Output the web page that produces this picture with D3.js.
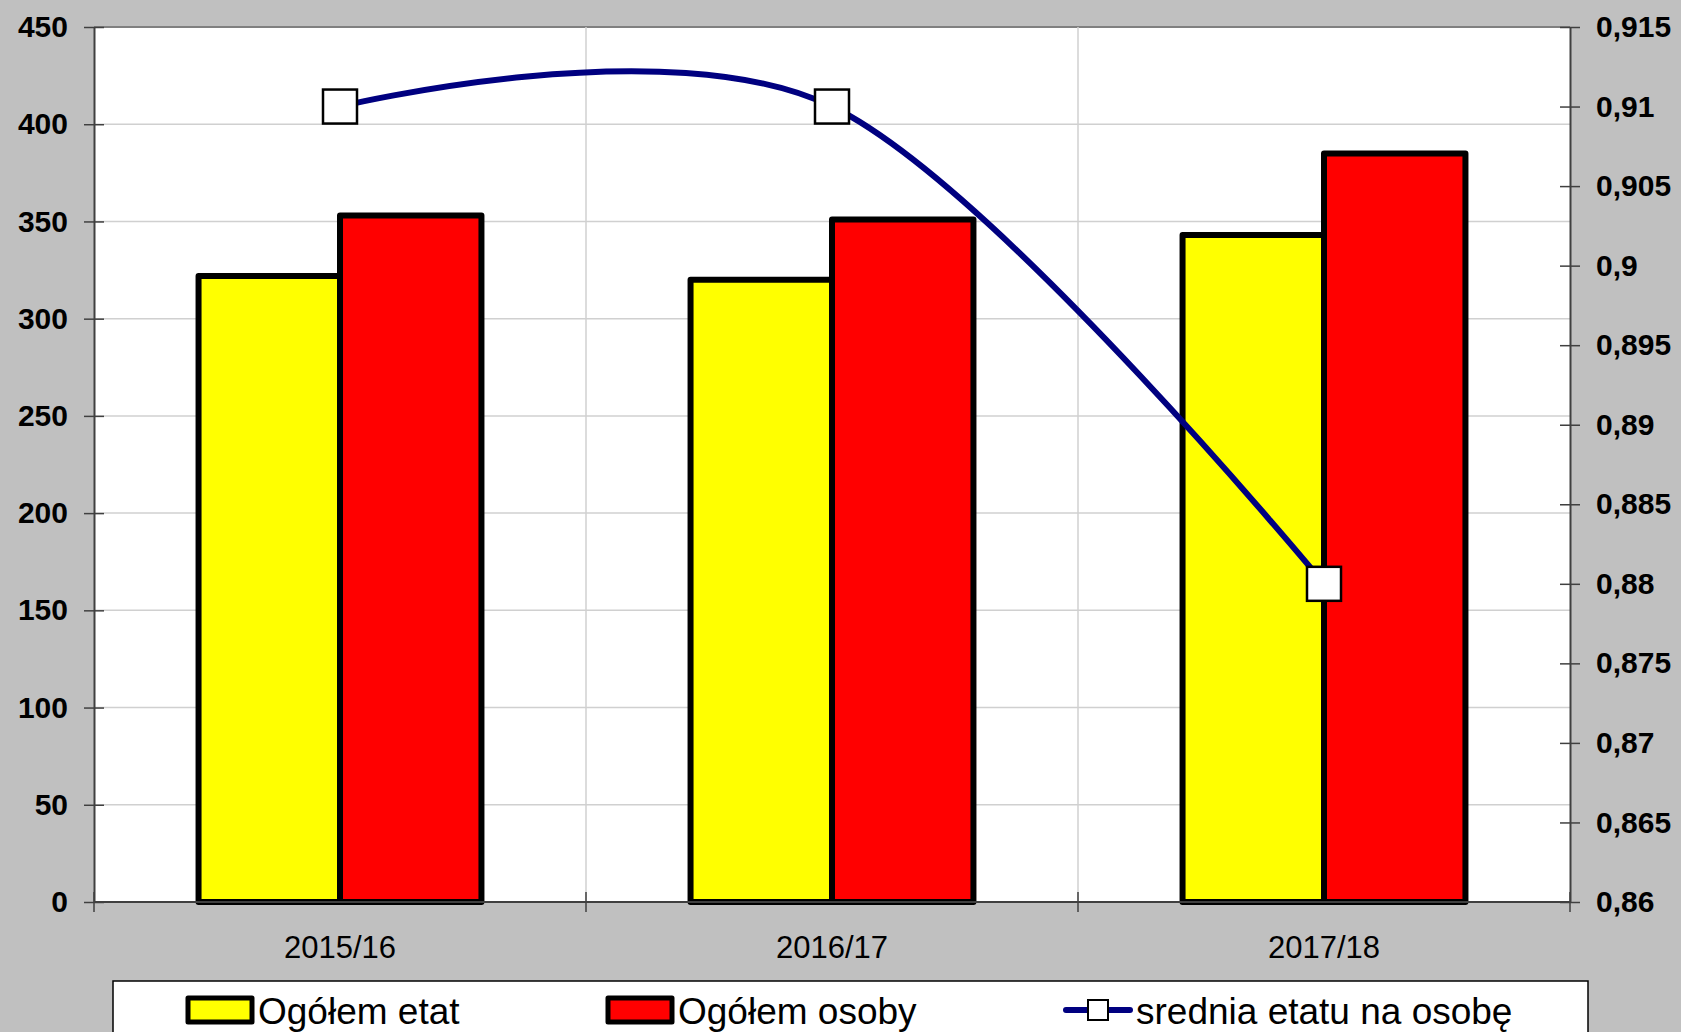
<!DOCTYPE html>
<html>
<head>
<meta charset="utf-8">
<script src="https://cdn.jsdelivr.net/npm/d3@7"></script>
<style>
  body { margin: 0; background: #c0c0c0; }
  svg { display: block; font-family: "Liberation Sans", Arial, sans-serif; }
</style>
</head>
<body>
<div id="chart"></div>
<script>
const categories = ["2015/16", "2016/17", "2017/18"];
const etat = [322, 320, 343];
const osoby = [353, 351, 385];
const srednia = [0.91, 0.91, 0.88];
const leftTicks = [0, 50, 100, 150, 200, 250, 300, 350, 400, 450];
const rightTicks = [0.86, 0.865, 0.87, 0.875, 0.88, 0.885, 0.89, 0.895, 0.9, 0.905, 0.91, 0.915];
const legendLabels = ["Ogółem etat", "Ogółem osoby", "srednia etatu na osobę"];

const width = 1681;
const height = 1032;
const plot = { left: 94, right: 1570, top: 27, bottom: 902 };

const svg = d3.select("#chart")
    .append("svg")
    .attr("width", width)
    .attr("height", height);

svg.append("rect")
    .attr("width", width)
    .attr("height", height)
    .attr("fill", "#c0c0c0");

const x = d3.scaleBand()
    .domain(categories)
    .range([plot.left, plot.right]);

const yLeft = d3.scaleLinear()
    .domain([0, 450])
    .range([plot.bottom, plot.top]);

const yRight = d3.scaleLinear()
    .domain([0.86, 0.915])
    .range([plot.bottom, plot.top]);

// plot area
svg.append("rect")
    .attr("x", plot.left)
    .attr("y", plot.top)
    .attr("width", plot.right - plot.left)
    .attr("height", plot.bottom - plot.top)
    .attr("fill", "#fff");

// horizontal gridlines
svg.append("g")
    .selectAll("line")
    .data(leftTicks.slice(1))
    .join("line")
    .attr("x1", plot.left)
    .attr("x2", plot.right)
    .attr("y1", d => yLeft(d))
    .attr("y2", d => yLeft(d))
    .attr("stroke", d => d === 450 ? "#808080" : "#d0d0d0")
    .attr("stroke-width", d => d === 450 ? 2 : 1.5);

// vertical gridlines at category boundaries
const bounds = categories.slice(1).map(c => x(c));
svg.append("g")
    .selectAll("line")
    .data(bounds)
    .join("line")
    .attr("x1", d => d)
    .attr("x2", d => d)
    .attr("y1", plot.top)
    .attr("y2", plot.bottom)
    .attr("stroke", "#d0d0d0")
    .attr("stroke-width", 1.5);

// bars
const barW = x.bandwidth() * 0.2875;
const cx = c => x(c) + x.bandwidth() / 2;

function drawBars(values, fill, offset) {
    svg.append("g")
        .selectAll("rect")
        .data(values)
        .join("rect")
        .attr("x", (d, i) => cx(categories[i]) + offset * barW)
        .attr("y", d => yLeft(d))
        .attr("width", barW)
        .attr("height", d => plot.bottom - yLeft(d))
        .attr("fill", fill)
        .attr("stroke", "#000")
        .attr("stroke-width", 6)
        .attr("stroke-linejoin", "round");
}
drawBars(etat, "#ffff00", -1);
drawBars(osoby, "#ff0000", 0);

// axes
const leftAxis = d3.axisLeft(yLeft)
    .tickValues(leftTicks)
    .tickSizeInner(10)
    .tickSizeOuter(0)
    .tickPadding(16);
const gL = svg.append("g")
    .attr("transform", `translate(${plot.left},0)`)
    .call(leftAxis);

const fmtRight = d => d3.format(".3~f")(d).replace(".", ",");
const rightAxis = d3.axisRight(yRight)
    .tickValues(rightTicks)
    .tickFormat(fmtRight)
    .tickSizeInner(10)
    .tickSizeOuter(0)
    .tickPadding(16);
const gR = svg.append("g")
    .attr("transform", `translate(${plot.right},0)`)
    .call(rightAxis);

[gL, gR].forEach(g => {
    g.select(".domain").attr("stroke", "#404040").attr("stroke-width", 2);
    g.selectAll(".tick line").attr("stroke", "#404040").attr("stroke-width", 1.5);
    g.selectAll(".tick text")
        .attr("fill", "#000")
        .attr("font-size", 30)
        .attr("font-weight", "bold")
        .attr("font-family", "Liberation Sans, Arial, sans-serif");
});
// ticks cross the axes
gL.selectAll(".tick line").attr("x1", 10);
gR.selectAll(".tick line").attr("x1", -10);

// category axis
const gB = svg.append("g")
    .attr("transform", `translate(0,${plot.bottom})`);
gB.append("line")
    .attr("x1", plot.left)
    .attr("x2", plot.right)
    .attr("stroke", "#404040")
    .attr("stroke-width", 2);
gB.selectAll(".cross")
    .data([plot.left].concat(bounds, [plot.right]))
    .join("line")
    .attr("x1", d => d)
    .attr("x2", d => d)
    .attr("y1", -10)
    .attr("y2", 10)
    .attr("stroke", "#404040")
    .attr("stroke-width", 1.5);
gB.selectAll("text")
    .data(categories)
    .join("text")
    .attr("x", d => cx(d))
    .attr("y", 56)
    .attr("text-anchor", "middle")
    .attr("font-size", 31)
    .attr("fill", "#000")
    .text(d => d);

// line series
const line = d3.line()
    .x((d, i) => cx(categories[i]))
    .y(d => yRight(d))
    .curve(d3.curveCardinal.tension(0));

svg.append("path")
    .datum(srednia)
    .attr("d", line)
    .attr("fill", "none")
    .attr("stroke", "#000080")
    .attr("stroke-width", 6);

const mk = 34;
svg.append("g")
    .selectAll("rect")
    .data(srednia)
    .join("rect")
    .attr("x", (d, i) => cx(categories[i]) - mk / 2)
    .attr("y", d => yRight(d) - mk / 2)
    .attr("width", mk)
    .attr("height", mk)
    .attr("fill", "#fff")
    .attr("stroke", "#000")
    .attr("stroke-width", 2.5);

// legend
const lg = svg.append("g");
lg.append("rect")
    .attr("x", 113)
    .attr("y", 981)
    .attr("width", 1475)
    .attr("height", 70)
    .attr("fill", "#fff")
    .attr("stroke", "#000")
    .attr("stroke-width", 1.5);

const legendX = [188, 608, 1066];
[["#ffff00"], ["#ff0000"]].forEach((c, i) => {
    lg.append("rect")
        .attr("x", legendX[i])
        .attr("y", 998)
        .attr("width", 64)
        .attr("height", 24)
        .attr("fill", c[0])
        .attr("stroke", "#000")
        .attr("stroke-width", 5)
        .attr("stroke-linejoin", "round");
});
lg.append("line")
    .attr("x1", legendX[2])
    .attr("x2", legendX[2] + 64)
    .attr("y1", 1010)
    .attr("y2", 1010)
    .attr("stroke", "#000080")
    .attr("stroke-width", 6)
    .attr("stroke-linecap", "round");
lg.append("rect")
    .attr("x", legendX[2] + 32 - 10)
    .attr("y", 1000)
    .attr("width", 20)
    .attr("height", 20)
    .attr("fill", "#fff")
    .attr("stroke", "#000")
    .attr("stroke-width", 2);

lg.selectAll("text")
    .data(legendLabels)
    .join("text")
    .attr("x", (d, i) => legendX[i] + 70)
    .attr("y", 1024)
    .attr("font-size", 37)
    .attr("fill", "#000")
    .text(d => d);
</script>
</body>
</html>
